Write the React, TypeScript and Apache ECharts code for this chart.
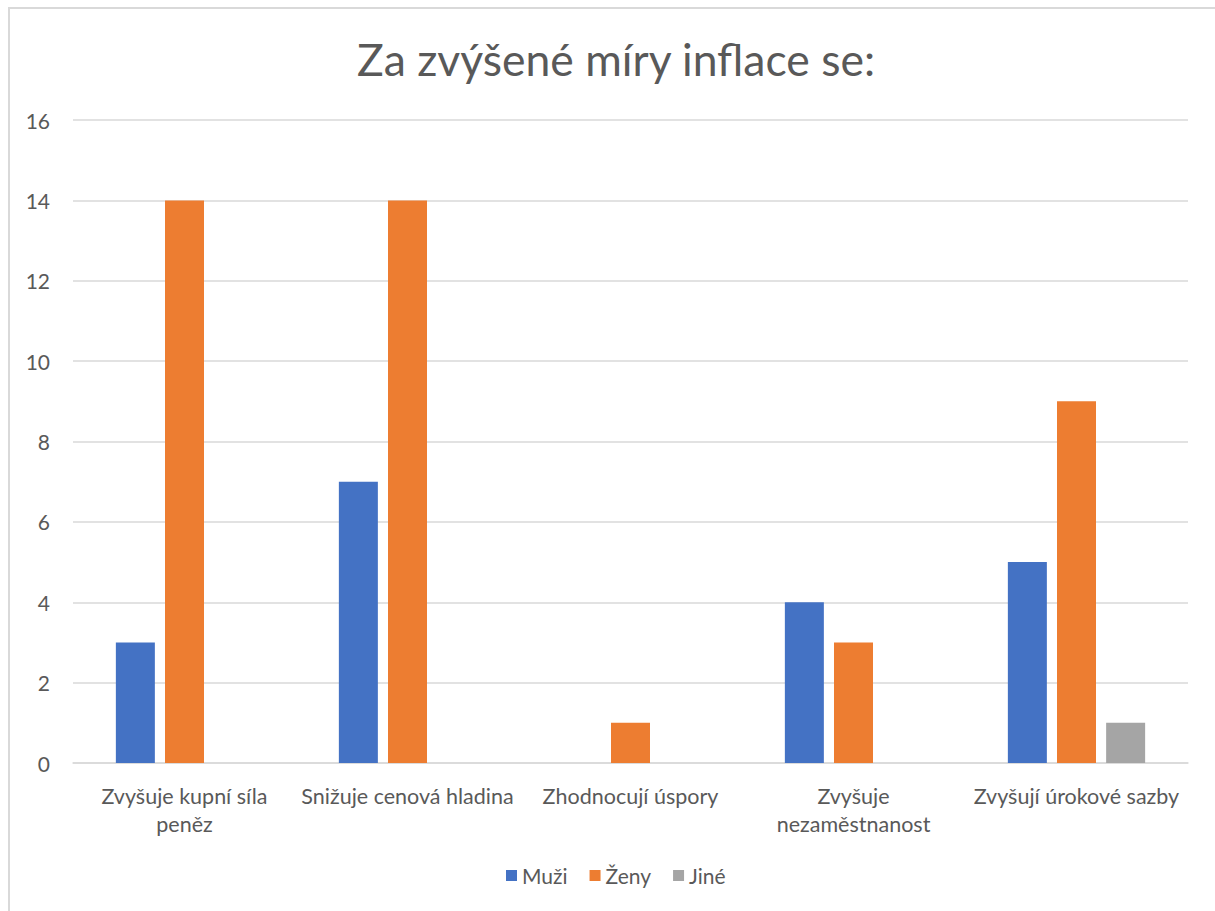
import React, { useEffect, useRef } from "react";
import * as echarts from "echarts";

const categories = [
  "Zvyšuje kupní síla peněz",
  "Snižuje cenová hladina",
  "Zhodnocují úspory",
  "Zvyšuje nezaměstnanost",
  "Zvyšují úrokové sazby",
];
const muzi = [3, 7, 0, 4, 5];
const zeny = [14, 14, 1, 3, 9];
const jine = [0, 0, 0, 0, 1];
const seriesNames = ["Muži", "Ženy", "Jiné"];
const titleText = "Za zvýšené míry inflace se:";

const wrapped: Record<string, string> = {
  "Zvyšuje kupní síla peněz": "Zvyšuje kupní síla\npeněz",
  "Zvyšuje nezaměstnanost": "Zvyšuje\nnezaměstnanost",
};

const FONT = "Lato";
const TEXT = "#595959";

export default function App() {
  const ref = useRef<HTMLDivElement>(null);
  useEffect(() => {
    if (!ref.current) return;
    const chart = echarts.init(ref.current, undefined, { renderer: "svg" });
    chart.setOption({
      animation: false,
      backgroundColor: "#ffffff",
      textStyle: { fontFamily: FONT },
      title: {
        text: titleText,
        left: 352,
        top: 31,
        textStyle: { fontFamily: FONT, fontSize: 44.5, fontWeight: "normal", color: TEXT },
      },
      graphic: [
        {
          type: "rect",
          shape: { x: 9, y: 8, width: 1220, height: 920 },
          style: { fill: "none", stroke: "#d9d9d9", lineWidth: 2 },
          silent: true,
        },
      ],
      legend: {
        data: seriesNames,
        bottom: 20,
        left: 501,
        itemWidth: 11,
        itemHeight: 11,
        itemGap: 22,
        icon: "rect",
        textStyle: { fontFamily: FONT, fontSize: 21, color: TEXT },
      },
      grid: { left: 73, right: 27, top: 120, bottom: 148, containLabel: false },
      xAxis: {
        type: "category",
        data: categories,
        axisTick: { show: false },
        axisLine: { lineStyle: { color: "#d9d9d9", width: 1.5 } },
        axisLabel: {
          fontFamily: FONT,
          fontSize: 21.5,
          color: TEXT,
          margin: 19,
          lineHeight: 28,
          interval: 0,
          formatter: (v: string) => wrapped[v] || v,
        },
      },
      yAxis: {
        type: "value",
        min: 0,
        max: 16,
        interval: 2,
        axisLine: { show: false },
        axisTick: { show: false },
        splitLine: { lineStyle: { color: "#d9d9d9", width: 1.5 } },
        axisLabel: { fontFamily: FONT, fontSize: 21, color: TEXT, margin: 23 },
      },
      series: [
        { name: seriesNames[0], type: "bar", data: muzi, barWidth: 39, barGap: "26%", itemStyle: { color: "#4472C4" } },
        { name: seriesNames[1], type: "bar", data: zeny, barWidth: 39, barGap: "26%", itemStyle: { color: "#ED7D31" } },
        { name: seriesNames[2], type: "bar", data: jine, barWidth: 39, barGap: "26%", itemStyle: { color: "#A5A5A5" } },
      ],
    });
    return () => chart.dispose();
  }, []);
  return (
    <div
      ref={ref}
      style={{ position: "absolute", left: 0, top: 0, width: 1215, height: 911 }}
    />
  );
}
